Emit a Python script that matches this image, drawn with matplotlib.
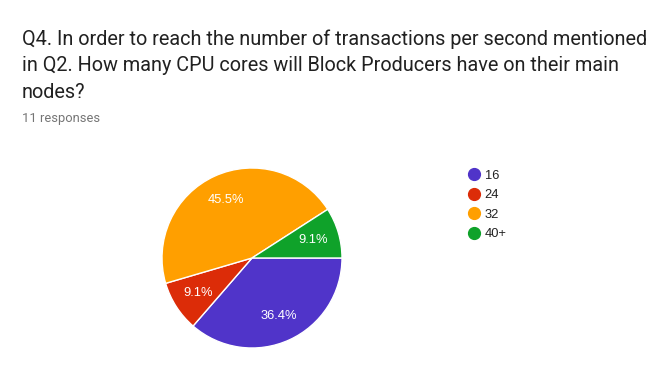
import matplotlib
matplotlib.use("Agg")
import matplotlib.pyplot as plt
from matplotlib.lines import Line2D

plt.rcParams['font.family'] = ['Roboto', 'DejaVu Sans']

title = "Q4. In order to reach the number of transactions per second mentioned\nin Q2. How many CPU cores will Block Producers have on their main\nnodes?"
subtitle = "11 responses"
categories = ["16", "24", "32", "40+"]
values = [4, 1, 5, 1]
colors = ["#5034c9", "#dc2c08", "#ff9f00", "#0fa22a"]

W, H = 669, 372
fig = plt.figure(figsize=(W / 100, H / 100), dpi=100)
fig.patch.set_facecolor("white")

fig.text(22 / W, 1 - 29 / H, title, fontsize=14.3, color="#212121",
         va="top", ha="left", linespacing=1.52)
fig.text(22 / W, 1 - 119 / H, subtitle, fontsize=9.3, color="#757575",
         va="center", ha="left")

cx, cy, r = 252, 258, 90
ax = fig.add_axes([(cx - r) / W, (H - cy - r) / H, 2 * r / W, 2 * r / H])
wedges, texts, autotexts = ax.pie(
    values, colors=colors, startangle=0, counterclock=False,
    autopct="%1.1f%%", pctdistance=0.71,
    wedgeprops=dict(edgecolor="white", linewidth=1),
    textprops=dict(color="white", fontsize=9.3, family=["Liberation Sans", "DejaVu Sans"]))
ax.set_aspect("equal")
ax.set_xlim(-1, 1)
ax.set_ylim(-1, 1)
ax.axis("off")

handles = [Line2D([0], [0], marker="o", linestyle="", markersize=8.5,
                  markerfacecolor=c, markeredgecolor=c) for c in colors]
leg = fig.legend(handles, categories, loc="upper left",
                 bbox_to_anchor=(460 / W, 1 - 163 / H), frameon=False,
                 handletextpad=0.2, labelspacing=0.58,
                 handlelength=1.2, borderpad=0, labelcolor="#212121",
                 prop=dict(family=["Liberation Sans", "DejaVu Sans"], size=9.3))

fig.savefig("out.png", dpi=100, facecolor="white")
